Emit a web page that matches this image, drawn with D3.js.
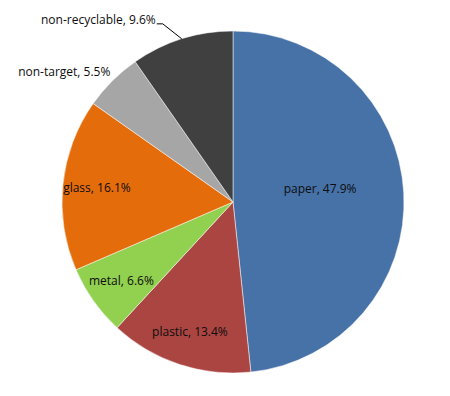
<!DOCTYPE html>
<html>
<head>
<meta charset="utf-8">
<script src="https://cdn.jsdelivr.net/npm/d3@7"></script>
<style>
	body { margin: 0; background: #fff; }
	svg { display: block; }
	text { font-family: "Open Sans", sans-serif; font-size: 12px; fill: #0d0d0d; }
</style>
</head>
<body>
<svg class="chart"></svg>
<script>
// composition of collected waste, share of weight
var categories = ["paper", "plastic", "metal", "glass", "non-target", "non-recyclable"];
var shares = [47.9, 13.4, 6.6, 16.1, 5.5, 9.6];
var colours = ["#4672a8", "#aa4541", "#92d050", "#e46c0a", "#a6a6a6", "#404040"];

window.onload = function() {

	var width = 450,
		height = 396,
		cx = 233,
		cy = 202,
		radius = 171;

	var svg = d3.select(".chart")
		.attr("width", width)
		.attr("height", height)
	  .append("g")
		.attr("transform", "translate(" + cx + "," + cy + ")");

	var data = categories.map(function(c, i) {
		return {name: c, value: shares[i], colour: colours[i]};
	});

	// clockwise from 12 o'clock, in the given order
	var pie = d3.pie()
		.sort(null)
		.value(function(d) { return d.value; });

	var arc = d3.arc()
		.innerRadius(0)
		.outerRadius(radius);

	var arcs = pie(data);

	svg.selectAll("path.slice")
		.data(arcs)
	  .enter().append("path")
		.attr("class", "slice")
		.attr("d", arc)
		.attr("fill", function(d) { return d.data.colour; })
		.attr("stroke", "#fff")
		.attr("stroke-width", 0.5);

	function labelText(d) {
		return d.data.name + ", " + d3.format(".1f")(d.data.value) + "%";
	}

	// point at a given radius on the middle of a slice
	function along(d, r) {
		return d3.arc().innerRadius(r).outerRadius(r).centroid(d);
	}

	var last = arcs.length - 1;

	// labels inside the slices
	var inside = arcs.filter(function(d, i) { return d.data.value > 6 && i != last; });
	svg.selectAll("text.inside")
		.data(inside)
	  .enter().append("text")
		.attr("class", "inside")
		.attr("text-anchor", "middle")
		.attr("dy", "0.35em")
		.attr("transform", function(d) {
			var p = d.data.value > 40 ? along(d, radius * 0.51) : along(d, radius * 0.8);
			if (d.data.value > 40) p[1] -= 9;
			return "translate(" + p[0] + "," + p[1] + ")";
		})
		.text(labelText);

	// small slices get their label outside
	var small = arcs.filter(function(d) { return d.data.value <= 6; });
	small.forEach(function(d) {
		var p = along(d, radius);
		svg.append("text")
			.attr("text-anchor", "end")
			.attr("dy", "0.35em")
			.attr("x", p[0] - 2)
			.attr("y", p[1] - 9)
			.text(labelText(d));
	});

	// non-recyclable label sits above with a leader line
	var nr = arcs[last],
		edge = along(nr, radius),
		elbow = [edge[0] - 19, edge[1] - 15];
	svg.append("path")
		.attr("d", d3.line()([edge, elbow, [elbow[0] - 6, elbow[1]]]))
		.attr("fill", "none")
		.attr("stroke", "#000")
		.attr("stroke-width", 1);
	svg.append("text")
		.attr("text-anchor", "end")
		.attr("dy", "0.35em")
		.attr("x", elbow[0] - 7)
		.attr("y", elbow[1] - 4)
		.text(labelText(nr));
}
</script>
</body>
</html>
